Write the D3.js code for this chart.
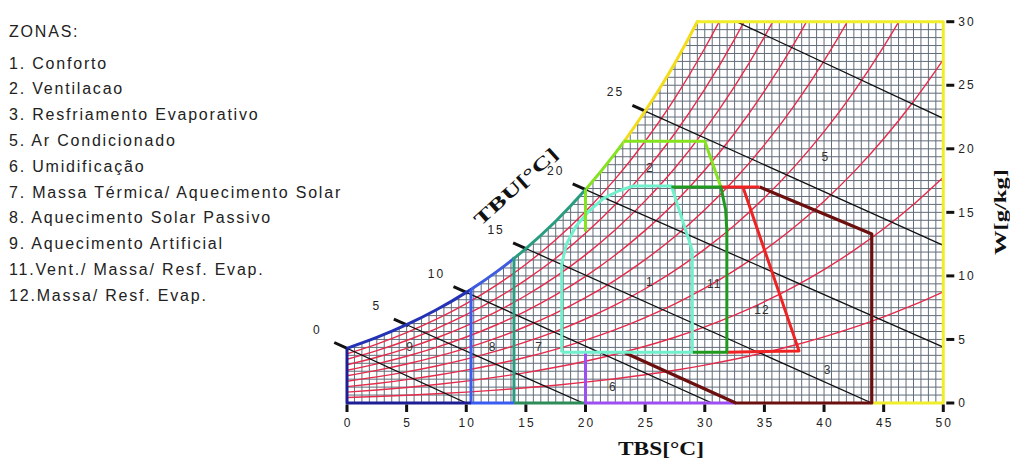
<!DOCTYPE html>
<html>
<head>
<meta charset="utf-8">
<script src="https://cdn.jsdelivr.net/npm/d3@7"></script>
<style>
  body { margin: 0; background: #fff; }
  svg { display: block; font-family: "Liberation Sans", Arial, sans-serif; }
</style>
</head>
<body>
<div class="chart"></div>
<script>
var w = 1010,
  h = 462;

// legend text
var legendTitle = 'ZONAS:';
var legendItems = ['1. Conforto', '2. Ventilacao', '3. Resfriamento Evaporativo', '5. Ar Condicionado',
  '6. Umidificação', '7. Massa Térmica/ Aquecimento Solar', '8. Aquecimento Solar Passivo',
  '9. Aquecimento Artificial', '11.Vent./ Massa/ Resf. Evap.', '12.Massa/ Resf. Evap.'];

// axis ticks
var tbsTicks = [0, 5, 10, 15, 20, 25, 30, 35, 40, 45, 50];
var wTicks = [0, 5, 10, 15, 20, 25, 30];

// saturation vapour pressure table (kPa) and the chart's station pressure
var satTemps = [0, 2.5, 5, 7.5, 10, 12.5, 15, 17.5, 20, 22.5, 25, 27.5, 30, 32.5, 35, 37.5, 40, 42.5, 45, 47.5, 50];
var satPressure = [0.6113, 0.7316, 0.8726, 1.0372, 1.2282, 1.4490, 1.7057, 2.0000, 2.3392, 2.7260, 3.1697,
  3.6710, 4.2467, 4.8950, 5.6286, 6.4530, 7.3844, 8.4270, 9.5944, 10.900, 12.3513];
var stationPressure = 89;
var rhLevels = [10, 20, 30, 40, 50, 60, 70, 80, 90];

// wet bulb lines: TBU and where each one leaves the chart [TBS, W]
var tbuTemps = [0, 5, 10, 15, 20, 25, 30];
var tbuEnds = [[10.0, 0], [19.8, 0], [30.6, 0], [44.0, 0], [50, 4.4], [50, 12.4], [50, 22.4]];

// zone outlines, [TBS, W]
var zone9Edge = [[0, 4.3], [0, 0], [10.4, 0]];
var zone8Edge = [[10.4, 8.95], [10.4, 0], [14, 0]];
var zone7Side = [[14, 0], [14, 11.5]];
var zone7Base = [[14, 0], [20, 0]];
var zone6Edge = [[20, 4], [20, 0], [32.6, 0]];
var zone3Edge = [[23.3, 3.95], [32.6, 0], [44, 0], [44, 13.3], [34.6, 17]];
var zone12Top = [[31.35, 17], [34.6, 17]];
var zone12Edge = [[33.2, 17], [37.9, 4.1], [31.85, 4]];
var zone11Edge = [[27.2, 17], [31.35, 17], [31.75, 15.2], [31.85, 13.5], [31.85, 4], [29, 4]];
var zone1Edge = [[18, 4], [18, 10.9], [18.4, 12.5], [19.2, 13.9], [20.3, 15.1], [21.5, 16.1], [22.8, 16.7],
  [24, 17.07], [27.2, 17.07], [28.95, 12], [28.95, 4], [18, 4]];
var zone2Side = [[20, 13.5], [20, 16.8]];
var zone2Top = [[23.2, 20.6], [30, 20.6], [31.35, 17]];
var outerEdge = [[29.3, 30], [50, 30], [50, 0], [44, 0]];
// TBS limits of the coloured pieces of the saturation curve
var satBreaks = [0, 10.4, 14, 20, 23.2, 50];

// zone numbers placed inside the chart
var zoneLabels = ['1', '2', '3', '5', '6', '7', '8', '9', '11', '12'];
var zoneLabelAt = [[25.4, 9.5], [25.4, 18.5], [40.3, 2.6], [40.1, 19.4], [22.3, 1.3], [16.1, 4.4],
  [12.2, 4.4], [5.3, 4.4], [30.8, 9.4], [34.8, 7.3]];

// helper: humidity ratio in g/kg from vapour pressure
var humRatio = function (pv) {
  return 622 * pv / (stationPressure - pv);
};

var satW = satPressure.map(humRatio);

var x = d3.scaleLinear().domain([0, 50]).range([347, 943.3]);
var y = d3.scaleLinear().domain([0, 30]).range([403, 21.7]);

var svg = d3.select('.chart')
  .append('svg')
  .attr('width', w)
  .attr('height', h);

var defs = svg.append('defs');

defs.append('clipPath').attr('id', 'clipBox')
  .append('rect')
  .attr('x', x(0)).attr('y', y(30))
  .attr('width', x(50) - x(0)).attr('height', y(0) - y(30));

var satPoints = satTemps.map(function (t, i) { return [t, satW[i]]; });

defs.append('clipPath').attr('id', 'clipSat')
  .append('path')
  .attr('d', d3.area()
    .x(function (d) { return x(d[0]); })
    .y0(y(0))
    .y1(function (d) { return y(d[1]); })
    .curve(d3.curveMonotoneX)(satPoints));

var line = d3.line()
  .x(function (d) { return x(d[0]); })
  .y(function (d) { return y(d[1]); });

var curve = d3.line()
  .x(function (d) { return x(d[0]); })
  .y(function (d) { return y(d[1]); })
  .curve(d3.curveMonotoneX);

var inner = svg.append('g').attr('clip-path', 'url(#clipBox)')
  .append('g').attr('clip-path', 'url(#clipSat)');

// grid
var gridT = d3.range(0, 50.001, 0.625),
  gridW = d3.range(0, 30.001, 0.625);

inner.selectAll('line.gx')
  .data(gridT)
  .enter()
  .append('line')
  .attr('class', 'gx')
  .attr('x1', function (d) { return x(d); })
  .attr('x2', function (d) { return x(d); })
  .attr('y1', y(0))
  .attr('y2', y(30))
  .attr('stroke', '#626c7a')
  .attr('stroke-width', 1);

inner.selectAll('line.gy')
  .data(gridW)
  .enter()
  .append('line')
  .attr('class', 'gy')
  .attr('x1', x(0))
  .attr('x2', x(50))
  .attr('y1', function (d) { return y(d); })
  .attr('y2', function (d) { return y(d); })
  .attr('stroke', '#626c7a')
  .attr('stroke-width', 1);

// relative humidity curves
inner.selectAll('path.rh')
  .data(rhLevels)
  .enter()
  .append('path')
  .attr('class', 'rh')
  .attr('d', function (rh) {
    return curve(satTemps.map(function (t, i) {
      return [t, humRatio(rh / 100 * satPressure[i])];
    }));
  })
  .attr('fill', 'none')
  .attr('stroke', '#e42c4c')
  .attr('stroke-width', 1.4);

// wet bulb lines
var tbuStart = tbuTemps.map(function (t) {
  return [t, satW[satTemps.indexOf(t)]];
});

inner.selectAll('path.tbu')
  .data(tbuTemps)
  .enter()
  .append('path')
  .attr('class', 'tbu')
  .attr('d', function (d, i) { return line([tbuStart[i], tbuEnds[i]]); })
  .attr('fill', 'none')
  .attr('stroke', '#111')
  .attr('stroke-width', 1.3);

// bold ticks where the wet bulb lines meet saturation, with their labels
var tickTbu = tbuTemps.filter(function (t) { return t <= 25; });
tickTbu.forEach(function (t, i) {
  var x0 = x(tbuStart[i][0]), y0 = y(tbuStart[i][1]),
    x1 = x(tbuEnds[i][0]), y1 = y(tbuEnds[i][1]),
    len = Math.sqrt((x0 - x1) * (x0 - x1) + (y0 - y1) * (y0 - y1)),
    ux = (x0 - x1) / len, uy = (y0 - y1) / len;
  svg.append('line')
    .attr('x1', x0 + ux * 14).attr('y1', y0 + uy * 14)
    .attr('x2', x0 - ux * 2).attr('y2', y0 - uy * 2)
    .attr('stroke', '#111')
    .attr('stroke-width', 3);
  svg.append('text')
    .attr('x', x0 + ux * 14 - 17)
    .attr('y', y0 + uy * 14 - 13)
    .attr('dy', '0.35em')
    .attr('text-anchor', 'middle')
    .attr('font-size', '12px')
    .attr('letter-spacing', '2px')
    .attr('fill', '#222')
    .text(t);
});

// saturation curve in coloured pieces
var satColors = ['#2432b5', '#3d5ce0', '#2a9c80', '#86e31f', '#f3dc1a'];
satColors.forEach(function (c, i) {
  var id = 'clipSeg' + i;
  defs.append('clipPath').attr('id', id)
    .append('rect')
    .attr('x', i === 0 ? x(satBreaks[i]) - 3 : x(satBreaks[i]))
    .attr('y', y(30) - 1.5)
    .attr('width', x(satBreaks[i + 1]) - x(satBreaks[i]) + (i === 0 ? 3 : 0))
    .attr('height', y(0) - y(30) + 3);
  svg.append('path')
    .attr('clip-path', 'url(#' + id + ')')
    .attr('d', curve(satPoints))
    .attr('fill', 'none')
    .attr('stroke', c)
    .attr('stroke-width', 3);
});

var drawEdge = function (pts, color, width) {
  svg.append('path')
    .attr('d', line(pts))
    .attr('fill', 'none')
    .attr('stroke', color)
    .attr('stroke-width', width || 3)
    .attr('stroke-linejoin', 'round');
};

drawEdge(zone7Base, '#2e8b5a');
drawEdge(zone7Side, '#2a9c80');
drawEdge(zone8Edge, '#3a5cf0');
drawEdge(zone9Edge, '#1d1d95');
drawEdge(zone6Edge, '#9c4ef2');
drawEdge(outerEdge, '#f0ee2a');
drawEdge(zone3Edge, '#6b0f0f', 3.2);
drawEdge(zone1Edge, '#70f0cc');
drawEdge(zone2Side, '#86e31f');
drawEdge(zone2Top, '#86e31f');
drawEdge(zone12Top, '#ef2323');
drawEdge(zone12Edge, '#ef2323');
drawEdge(zone11Edge, '#1f9a1f');

// zone numbers
svg.selectAll('text.zone')
  .data(zoneLabels)
  .enter()
  .append('text')
  .attr('class', 'zone')
  .attr('x', function (d, i) { return x(zoneLabelAt[i][0]); })
  .attr('y', function (d, i) { return y(zoneLabelAt[i][1]); })
  .attr('dy', '0.35em')
  .attr('text-anchor', 'middle')
  .attr('font-size', '12px')
  .attr('letter-spacing', '1px')
  .attr('fill', '#333')
  .text(function (d) { return d; });

// TBS axis
svg.selectAll('line.xt')
  .data(tbsTicks)
  .enter()
  .append('line')
  .attr('class', 'xt')
  .attr('x1', function (d) { return x(d); })
  .attr('x2', function (d) { return x(d); })
  .attr('y1', y(0) + 1.5)
  .attr('y2', y(0) + 9)
  .attr('stroke', '#111')
  .attr('stroke-width', 3);

svg.selectAll('text.xl')
  .data(tbsTicks)
  .enter()
  .append('text')
  .attr('class', 'xl')
  .attr('x', function (d) { return x(d) + 1; })
  .attr('y', y(0) + 20)
  .attr('dy', '0.35em')
  .attr('text-anchor', 'middle')
  .attr('font-size', '12px')
  .attr('letter-spacing', '2px')
  .attr('fill', '#222')
  .text(function (d) { return d; });

// W axis
svg.selectAll('line.yt')
  .data(wTicks)
  .enter()
  .append('line')
  .attr('class', 'yt')
  .attr('x1', x(50) + 3)
  .attr('x2', x(50) + 11)
  .attr('y1', function (d) { return y(d); })
  .attr('y2', function (d) { return y(d); })
  .attr('stroke', '#111')
  .attr('stroke-width', 3);

svg.selectAll('text.yl')
  .data(wTicks)
  .enter()
  .append('text')
  .attr('class', 'yl')
  .attr('x', x(50) + 15)
  .attr('y', function (d) { return y(d); })
  .attr('dy', '0.35em')
  .attr('font-size', '12px')
  .attr('letter-spacing', '2px')
  .attr('fill', '#222')
  .text(function (d) { return d; });

// axis titles
svg.append('text')
  .attr('x', 661).attr('y', 455)
  .attr('text-anchor', 'middle')
  .attr('font-family', '"Liberation Serif", "Times New Roman", serif')
  .attr('font-weight', 'bold')
  .attr('font-size', '18px')
  .attr('textLength', 86)
  .attr('lengthAdjust', 'spacingAndGlyphs')
  .attr('fill', '#111')
  .text('TBS[°C]');

svg.append('text')
  .attr('transform', 'translate(1006,212) rotate(-90)')
  .attr('text-anchor', 'middle')
  .attr('font-family', '"Liberation Serif", "Times New Roman", serif')
  .attr('font-weight', 'bold')
  .attr('font-size', '16px')
  .attr('textLength', 86)
  .attr('lengthAdjust', 'spacingAndGlyphs')
  .attr('fill', '#111')
  .text('W[g/kg]');

svg.append('text')
  .attr('transform', 'translate(520,191) rotate(-42)')
  .attr('text-anchor', 'middle')
  .attr('font-family', '"Liberation Serif", "Times New Roman", serif')
  .attr('font-weight', 'bold')
  .attr('font-size', '18px')
  .attr('textLength', 106)
  .attr('lengthAdjust', 'spacingAndGlyphs')
  .attr('fill', '#111')
  .text('TBU[°C]');

// legend
var legend = svg.append('g').attr('fill', '#222').attr('font-size', '16px').attr('letter-spacing', '1.8px');

legend.append('text')
  .attr('x', 9).attr('y', 31).attr('dy', '0.35em')
  .text(legendTitle);

legend.selectAll('text.item')
  .data(legendItems)
  .enter()
  .append('text')
  .attr('class', 'item')
  .attr('x', 9)
  .attr('y', function (d, i) { return 63 + i * 25.8; })
  .attr('dy', '0.35em')
  .text(function (d) { return d; });
</script>
</body>
</html>
